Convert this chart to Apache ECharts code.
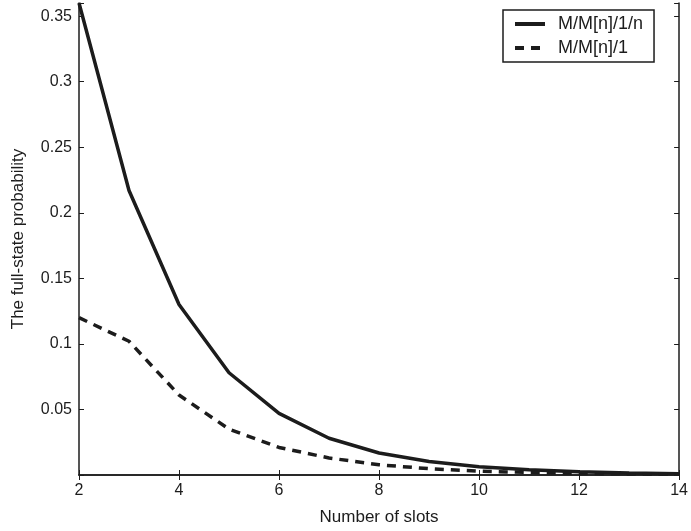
<!DOCTYPE html>
<html>
<head>
<meta charset="utf-8">
<script src="https://cdn.jsdelivr.net/npm/echarts@6/dist/echarts.min.js"></script>
<style>
  html, body { margin: 0; padding: 0; background: #fff; }
  #chart { width: 691px; height: 531px; }
</style>
</head>
<body>
<div id="chart"></div>
<script>
// number of slots
var slots = [2, 3, 4, 5, 6, 7, 8, 9, 10, 11, 12, 13, 14];
// full-state probability, M/M[n]/1/n (solid)
var probFinite = [0.360, 0.217, 0.130, 0.078, 0.047, 0.028, 0.0168, 0.0103, 0.0063, 0.0040, 0.0025, 0.0016, 0.0010];
// full-state probability, M/M[n]/1 (dashed)
var probInfinite = [0.120, 0.102, 0.061, 0.035, 0.021, 0.013, 0.0078, 0.0048, 0.0030, 0.0019, 0.0012, 0.0008, 0.0005];
var seriesNames = ['M/M[n]/1/n', 'M/M[n]/1'];

function pairs(xs, ys) {
    var out = [];
    for (var i = 0; i < xs.length; i++) {
        out.push([xs[i], ys[i]]);
    }
    return out;
}

var ink = '#1c1c1c';
var font = 'Liberation Sans, Arial, sans-serif';

var myChart = echarts.init(document.getElementById('chart'));
myChart.setOption({
    animation: false,
    textStyle: { fontFamily: font },
    grid: { left: 79, right: 9, top: 3, bottom: 54 },
    legend: {
        orient: 'vertical',
        left: 503,
        top: 10,
        padding: [5, 11, 5, 10],
        borderColor: ink,
        borderWidth: 1.5,
        itemWidth: 30,
        itemHeight: 14,
        itemGap: 6,
        itemStyle: { opacity: 0 },
        lineStyle: { width: 4 },
        textStyle: { fontSize: 18, color: ink, fontFamily: font, padding: [0, 0, 0, 8] },
        data: seriesNames
    },
    xAxis: [{
        type: 'value',
        min: 2,
        max: 14,
        interval: 2,
        name: 'Number of slots',
        nameLocation: 'middle',
        nameGap: 34,
        nameTextStyle: { fontSize: 17, color: ink },
        axisLine: { lineStyle: { color: ink, width: 1.5 } },
        axisTick: { inside: true, length: 5, lineStyle: { color: ink } },
        axisLabel: { fontSize: 16, color: ink, margin: 8 },
        splitLine: { show: false }
    }, {
        type: 'value',
        position: 'top',
        min: 2,
        max: 14,
        interval: 2,
        axisLine: { show: true, lineStyle: { color: ink, width: 1.5 } },
        axisTick: { inside: true, length: 5, lineStyle: { color: ink } },
        axisLabel: { show: false },
        splitLine: { show: false }
    }],
    yAxis: [{
        type: 'value',
        min: 0,
        max: 0.36,
        interval: 0.05,
        name: 'The full-state probability',
        nameLocation: 'middle',
        nameGap: 52,
        nameTextStyle: { fontSize: 17, color: ink },
        axisLine: { show: true, lineStyle: { color: ink, width: 1.5 } },
        axisTick: { inside: true, length: 5, lineStyle: { color: ink } },
        axisLabel: {
            fontSize: 16,
            color: ink,
            margin: 7,
            formatter: function (v) {
                if (v <= 0 || v > 0.355) return '';
                return String(+v.toFixed(2));
            }
        },
        splitLine: { show: false }
    }, {
        type: 'value',
        position: 'right',
        min: 0,
        max: 0.36,
        interval: 0.05,
        axisLine: { show: true, lineStyle: { color: ink, width: 1.5 } },
        axisTick: { inside: true, length: 5, lineStyle: { color: ink } },
        axisLabel: { show: false },
        splitLine: { show: false }
    }],
    series: [{
        name: seriesNames[0],
        type: 'line',
        symbol: 'none',
        data: pairs(slots, probFinite),
        lineStyle: { color: ink, width: 3.5 },
        itemStyle: { color: ink }
    }, {
        name: seriesNames[1],
        type: 'line',
        symbol: 'none',
        data: pairs(slots, probInfinite),
        lineStyle: { color: ink, width: 3.5, type: [9, 7] },
        itemStyle: { color: ink }
    }]
});
</script>
</body>
</html>
